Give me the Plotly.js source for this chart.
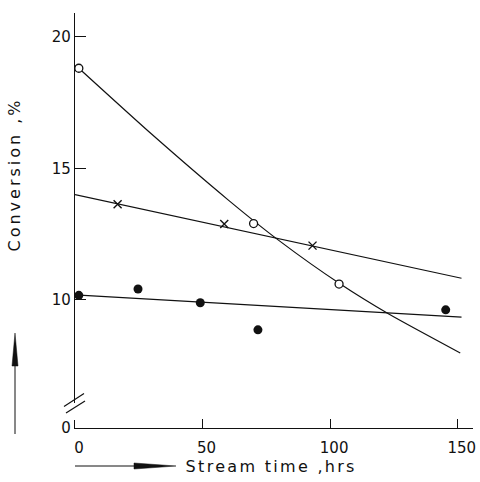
<!DOCTYPE html>
<html>
<head>
<meta charset="utf-8">
<script src="https://cdn.plot.ly/plotly-3.0.1.min.js"></script>
<style>
html,body{margin:0;padding:0;background:#fff;}
#chart{width:480px;height:482px;}
g.annotation[data-index="0"] text{letter-spacing:3px;}
g.annotation[data-index="1"] text{letter-spacing:2.3px;}
</style>
</head>
<body>
<div id="chart"></div>
<script>
// Data
const openX = [1.5, 70, 103.5];
const openY = [18.8, 12.9, 10.6];
const crossX = [16.7, 58.5, 93.1];
const crossY = [13.63, 12.88, 12.06];
const filledX = [1.5, 24.7, 49.1, 71.7, 145.3];
const filledY = [10.17, 10.41, 9.89, 8.86, 9.62];

// Fitted curves drawn in the reference
const openFitX = [1.5, 30, 60, 80, 104, 123, 151];
const openFitY = [18.8, 16.3, 13.8, 12.25, 10.6, 9.46, 7.98];
const crossFitX = [0, 151.5];
const crossFitY = [14.0, 10.82];
const filledFitX = [0, 151.5];
const filledFitY = [10.19, 9.34];

const xTicks = [0, 50, 100, 150];
const yTickVals = [5.13, 10, 15, 20];
const yTickText = ["0", "10", "15", "20"];

const FONT = "DejaVu Sans, sans-serif";
const lineStyle = {color: "#111", width: 1.2};

const traces = [
  {x: openFitX, y: openFitY, mode: "lines", line: Object.assign({shape: "spline", smoothing: 0.6}, lineStyle), hoverinfo: "skip"},
  {x: crossFitX, y: crossFitY, mode: "lines", line: lineStyle, hoverinfo: "skip"},
  {x: filledFitX, y: filledFitY, mode: "lines", line: lineStyle, hoverinfo: "skip"},
  {x: openX, y: openY, mode: "markers", marker: {symbol: "circle", size: 8, color: "#fff", line: {color: "#111", width: 1.3}}},
  {x: crossX, y: crossY, mode: "markers", marker: {symbol: "x-thin-open", size: 8, color: "#111", line: {color: "#111", width: 1.4}}},
  {x: filledX, y: filledY, mode: "markers", marker: {symbol: "circle", size: 9, color: "#111", line: {color: "#111", width: 0}}}
];

// pixel -> paper helpers for decorations (plot area 75..473 x 13..428)
const L = 75, R = 473, T = 13, B = 428;
const px = v => (v - L) / (R - L);
const py = v => (B - v) / (B - T);

const shapes = [
  // axis break: white gap and two slashes
  {type: "rect", xref: "paper", yref: "paper", x0: px(72), x1: px(79), y0: py(420), y1: py(403), fillcolor: "#fff", line: {width: 0}},
  {type: "line", xref: "paper", yref: "paper", x0: px(64), y0: py(406.5), x1: px(84), y1: py(393.5), line: {color: "#111", width: 1.2}},
  {type: "line", xref: "paper", yref: "paper", x0: px(66), y0: py(413), x1: px(85), y1: py(401), line: {color: "#111", width: 1.2}},
  // y arrow
  {type: "line", xref: "paper", yref: "paper", x0: px(15), y0: py(434), x1: px(15), y1: py(362), line: {color: "#111", width: 1}},
  {type: "path", xref: "paper", yref: "paper", path: `M ${px(12)} ${py(366)} L ${px(15)} ${py(333)} L ${px(18)} ${py(366)} Z`, fillcolor: "#111", line: {color: "#111", width: 0.5}},
  // x arrow
  {type: "line", xref: "paper", yref: "paper", x0: px(75), y0: py(466), x1: px(138), y1: py(466), line: {color: "#111", width: 1}},
  {type: "path", xref: "paper", yref: "paper", path: `M ${px(134)} ${py(463)} L ${px(176)} ${py(466)} L ${px(134)} ${py(469)} Z`, fillcolor: "#111", line: {color: "#111", width: 0.5}}
];

const annotations = [
  {xref: "paper", yref: "paper", x: px(15), y: py(175), text: "Conversion ,%", textangle: -90, showarrow: false, font: {family: FONT, size: 16, color: "#111"}, xanchor: "center", yanchor: "middle"},
  {xref: "paper", yref: "paper", x: px(271), y: py(466), text: "Stream time ,hrs", showarrow: false, font: {family: FONT, size: 16, color: "#111"}, xanchor: "center", yanchor: "middle"}
];

const layout = {
  width: 480, height: 482,
  margin: {l: L, r: 480 - R, t: T, b: 482 - B},
  paper_bgcolor: "#fff", plot_bgcolor: "#fff",
  showlegend: false,
  xaxis: {
    range: [0, 156], showgrid: false, zeroline: false,
    showline: true, linecolor: "#111", linewidth: 1.2,
    ticks: "inside", ticklen: 9, tickwidth: 1.2, tickcolor: "#111",
    tickvals: xTicks, ticktext: xTicks.map(String),
    ticklabelshift: 4, ticklabelstandoff: 6,
    tickfont: {family: FONT, size: 15, color: "#111"}
  },
  yaxis: {
    range: [5.13, 20.9], showgrid: false, zeroline: false,
    showline: true, linecolor: "#111", linewidth: 1.2,
    ticks: "inside", ticklen: 11, tickwidth: 1.2, tickcolor: "#111",
    tickvals: yTickVals, ticktext: yTickText,
    tickfont: {family: FONT, size: 15, color: "#111"}
  },
  shapes: shapes,
  annotations: annotations
};

Plotly.newPlot("chart", traces, layout, {displayModeBar: false, staticPlot: true});
</script>
</body>
</html>
